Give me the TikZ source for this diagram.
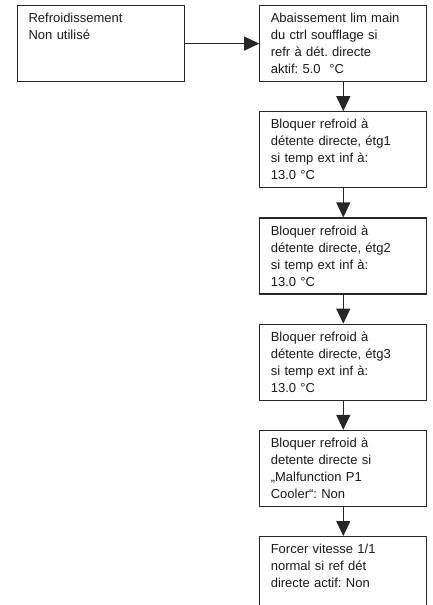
\documentclass[tikz,border=0pt]{standalone}
\usepackage{fontspec}
\setmainfont{Liberation Sans}
\usepackage{xcolor}
\usepackage{tikz}
\usetikzlibrary{positioning,arrows.meta}
\frenchspacing

\begin{document}
\begin{tikzpicture}[
    x=1pt, y=1pt,
    node distance=29pt,
    every node/.style={draw=black!85, line width=1.2pt, text=black!90, align=left,
        text width=145pt, inner xsep=11pt, inner ysep=0pt,
        text height=17pt, text depth=59pt,
        font=\fontsize{13pt}{17pt}\selectfont},
    fleche/.style={draw=black!85, line width=1.2pt, -{Triangle[length=15pt,width=14pt]}}
]
\useasboundingbox (0,0) rectangle (432,-605);
\node[anchor=north west] (refr) at (17,-5) {Refroidissement\\Non utilisé};
\node[right=74pt of refr] (abaiss) {Abaissement lim main\\du ctrl soufflage si\\refr à dét. directe\\aktif: 5.0\ \ °C};
\node[below=of abaiss] (etg1) {Bloquer refroid à\\détente directe, étg1\\si temp ext inf à:\\13.0 °C};
\node[below=of etg1] (etg2) {Bloquer refroid à\\détente directe, étg2\\si temp ext inf à:\\13.0 °C};
\node[below=of etg2] (etg3) {Bloquer refroid à\\détente directe, étg3\\si temp ext inf à:\\13.0 °C};
\node[below=of etg3] (defaut) {Bloquer refroid à\\detente directe si\\„Malfunction P1\\Cooler“: Non};
\node[below=of defaut] (vitesse) {Forcer vitesse 1/1\\normal si ref dét\\directe actif: Non};

\draw[fleche] (refr) -- (abaiss);
\draw[fleche] (abaiss) -- (etg1);
\draw[fleche] (etg1) -- (etg2);
\draw[fleche] (etg2) -- (etg3);
\draw[fleche] (etg3) -- (defaut);
\draw[fleche] (defaut) -- (vitesse);
\end{tikzpicture}
\end{document}
